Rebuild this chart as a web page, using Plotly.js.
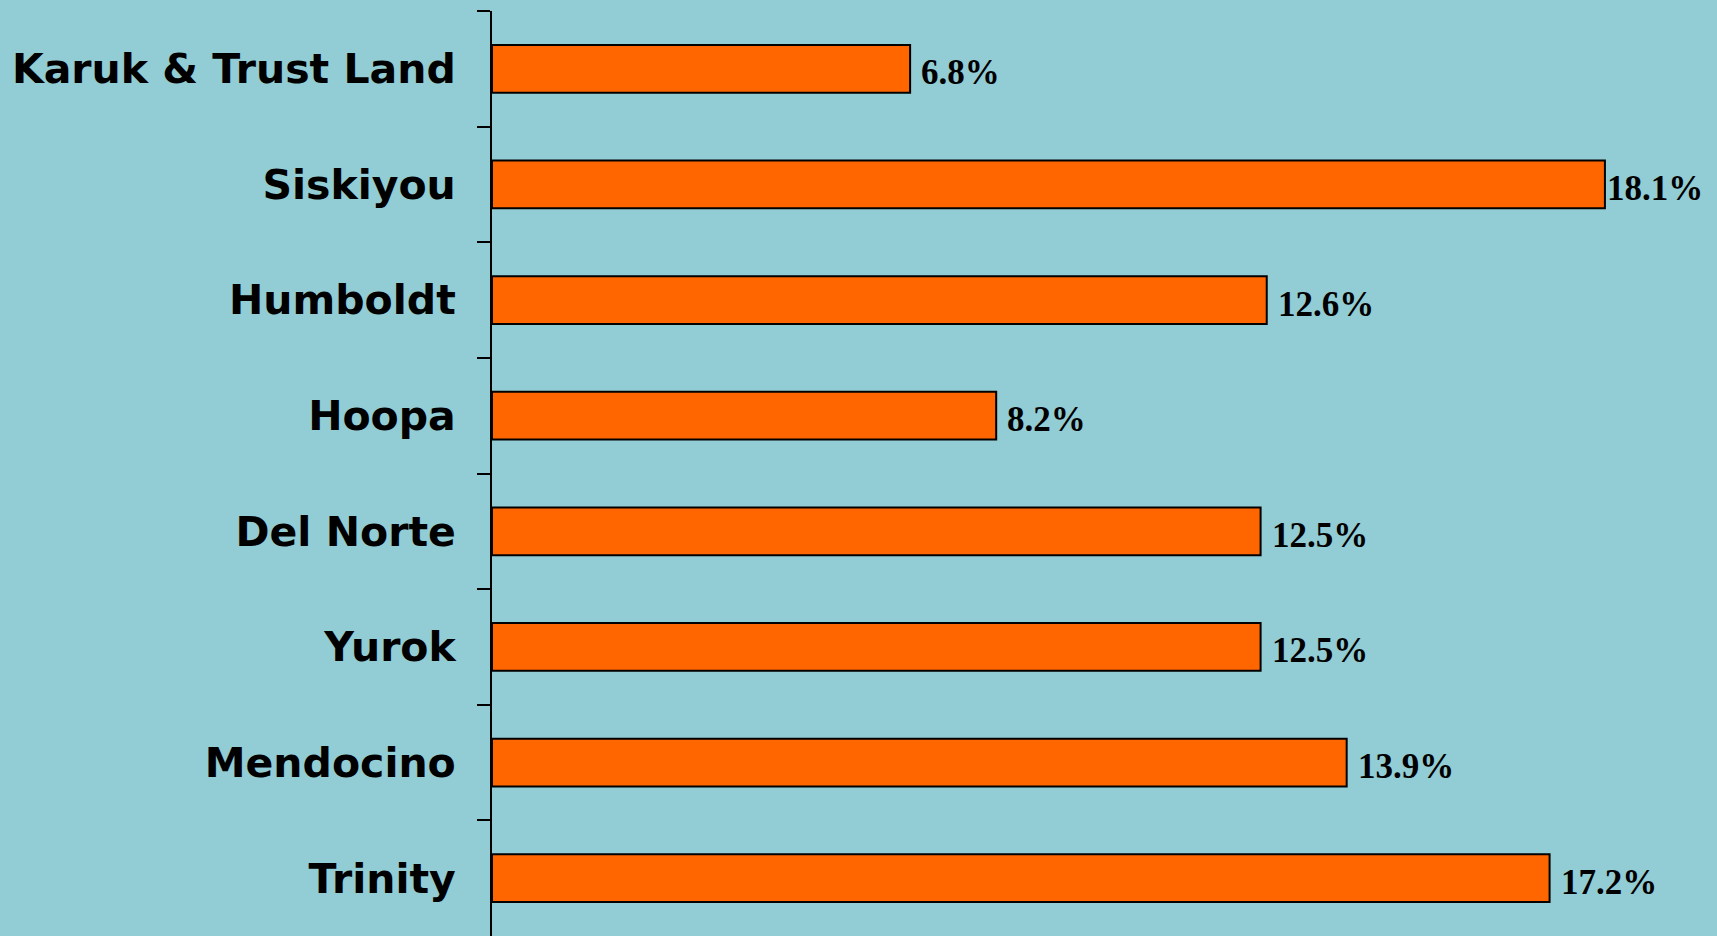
<!DOCTYPE html>
<html>
<head>
<meta charset="utf-8">
<script src="https://cdn.plot.ly/plotly-3.0.1.min.js"></script>
<style>
html,body{margin:0;padding:0;background:#92CCD4;}
#chart{width:1717px;height:936px;}
</style>
</head>
<body>
<div id="chart"></div>
<script>
const categories = ["Karuk & Trust Land", "Siskiyou", "Humboldt", "Hoopa", "Del Norte", "Yurok", "Mendocino", "Trinity"];
const values = [6.8, 18.1, 12.6, 8.2, 12.5, 12.5, 13.9, 17.2];
const valueLabels = ["6.8%", "18.1%", "12.6%", "8.2%", "12.5%", "12.5%", "13.9%", "17.2%"];
const labelShift = [9, 0, 9, 9, 9, 9, 9, 9];

const trace = {
  type: 'bar',
  orientation: 'h',
  y: categories,
  x: values,
  marker: {color: '#FF6600', line: {color: '#000000', width: 2}},
  hoverinfo: 'none'
};

const annotations = values.map((v, i) => ({
  x: v, y: categories[i], xref: 'x', yref: 'y',
  text: valueLabels[i], showarrow: false,
  xanchor: 'left', yanchor: 'middle', xshift: labelShift[i], yshift: -4,
  font: {family: 'Liberation Serif, Times New Roman, serif', size: 35, color: '#000000', weight: 'bold'}
}));

const layout = {
  width: 1717, height: 936,
  paper_bgcolor: '#92CCD4', plot_bgcolor: '#92CCD4',
  margin: {l: 492, r: 26, t: 11, b: 0},
  bargap: 0.586,
  showlegend: false,
  xaxis: {range: [0, 19.5], visible: false, showgrid: false, zeroline: false, fixedrange: true},
  yaxis: {
    type: 'category',
    categoryorder: 'array', categoryarray: categories,
    range: [7.5, -0.5],
    showline: true, linecolor: '#000000', linewidth: 2,
    ticks: 'outside', tickson: 'boundaries', ticklen: 13, tickcolor: '#000000', tickwidth: 2,
    showgrid: false, zeroline: false,
    ticklabelstandoff: 26,
    tickfont: {family: 'DejaVu Sans, Verdana, sans-serif', size: 41, color: '#000000', weight: 'bold'}
  },
  annotations: annotations
};

Plotly.newPlot('chart', [trace], layout, {displayModeBar: false, staticPlot: true});
</script>
</body>
</html>
